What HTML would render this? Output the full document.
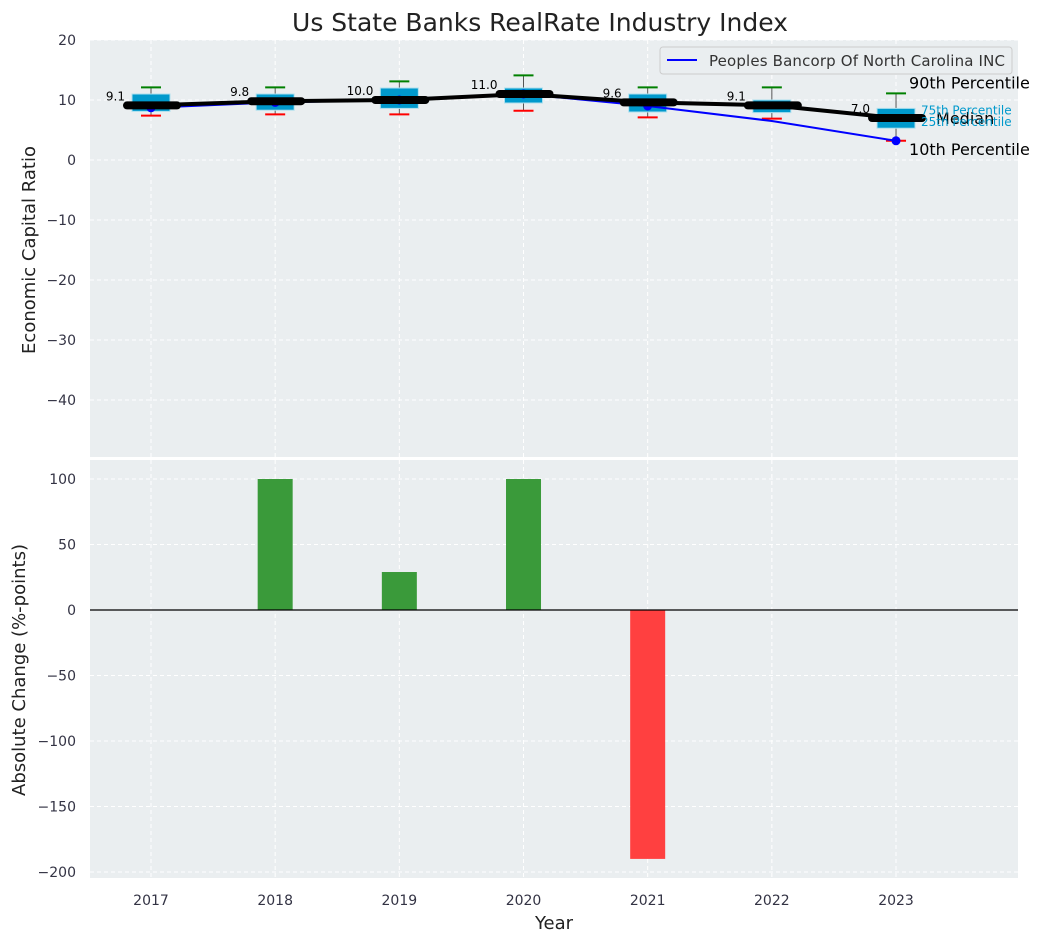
<!DOCTYPE html>
<html><head><meta charset="utf-8"><style>
body{margin:0;background:#fff;font-family:"Liberation Sans","DejaVu Sans",sans-serif}
svg text{font-family:"DejaVu Sans","Liberation Sans",sans-serif}
</style></head><body>
<svg id="c" width="1044" height="942" xmlns="http://www.w3.org/2000/svg">
<text x="540" y="31" font-size="25" text-anchor="middle" fill="#222">Us State Banks RealRate Industry Index</text>
<rect x="90" y="40" width="928" height="417" fill="#eaeef0"/>
<rect x="90" y="460" width="928" height="418" fill="#eaeef0"/>
<g id="gtop"></g><g id="gbot"></g>
<text transform="translate(35,250) rotate(-90)" font-size="18" text-anchor="middle" fill="#222">Economic Capital Ratio</text>
<text transform="translate(25,670) rotate(-90)" font-size="18" text-anchor="middle" fill="#222">Absolute Change (%-points)</text>
<text x="554" y="929" font-size="18" text-anchor="middle" fill="#222">Year</text>
<g>
<rect x="660" y="47" width="352" height="27" rx="3" fill="#eaeef0" stroke="#ccc"/>
<line x1="667" y1="60" x2="697" y2="60" stroke="blue" stroke-width="2"/>
<text x="709" y="66" font-size="15" fill="#333" textLength="296">Peoples Bancorp Of North Carolina INC</text>
</g>
</svg>
<script>
const years=[2017,2018,2019,2020,2021,2022,2023];
const medians=[9.1,9.8,10.0,11.0,9.6,9.1,7.0];
const q1=[8.1,8.3,8.6,9.5,8.0,7.9,5.3];
const q3=[11.0,11.0,12.0,12.0,11.0,10.0,8.6];
const p10=[7.4,7.6,7.6,8.2,7.1,6.9,3.2];
const p90=[12.1,12.1,13.1,14.1,12.1,12.1,11.1];
const company=[8.7,9.6,10.0,11.0,9.0,6.5,3.2];
const changes=[0,100,29,100,-190,0,0];
const topTicks=[20,10,0,-10,-20,-30,-40];
const botTicks=[100,50,0,-50,-100,-150,-200];
const NS="http://www.w3.org/2000/svg";
const X=y=>151+(y-2017)*124.17;
const YT=v=>160-v*6;
const YB=v=>610-v*1.31;
function mk(p,t,a){const e=document.createElementNS(NS,t);for(const k in a)e.setAttribute(k,a[k]);p.appendChild(e);return e;}
const gT=document.getElementById('gtop'),gB=document.getElementById('gbot');
years.forEach(y=>{[[gT,40,457],[gB,460,878]].forEach(([g,a,b])=>{const l=mk(g,'line',{x1:X(y),x2:X(y),y1:a,y2:b,stroke:'#fff','stroke-dasharray':'4,3'});

});
const t=mk(gB,'text',{x:X(y),y:905,'font-size':14,'text-anchor':'middle',fill:'#334'});t.textContent=y;

});
topTicks.forEach(v=>{const l=mk(gT,'line',{x1:90,x2:1018,y1:YT(v),y2:YT(v),stroke:'#fff','stroke-dasharray':'4,3'});


const t=mk(gT,'text',{x:76,y:YT(v)+5,'font-size':14,'text-anchor':'end',fill:'#334'});t.textContent=v<0?'\u2212'+(-v):v;

});
botTicks.forEach(v=>{const l=mk(gB,'line',{x1:90,x2:1018,y1:YB(v),y2:YB(v),stroke:'#fff','stroke-dasharray':'4,3'});


const t=mk(gB,'text',{x:76,y:YB(v)+5,'font-size':14,'text-anchor':'end',fill:'#334'});t.textContent=v<0?'\u2212'+(-v):v;

});
years.forEach((y,i)=>{const x=X(y),hw=19;
const w=mk(gT,'line',{x1:x,x2:x,y1:YT(p90[i]),y2:YT(p10[i]),stroke:'#555','stroke-width':1});


const b=mk(gT,'rect',{x:x-hw,y:YT(q3[i]),width:2*hw,height:YT(q1[i])-YT(q3[i]),fill:'#0099cc',stroke:'#aee0ee','stroke-width':1});


const a=mk(gT,'line',{x1:x-10,x2:x+10,y1:YT(p90[i]),y2:YT(p90[i]),stroke:'green','stroke-width':2});


const c=mk(gT,'line',{x1:x-10,x2:x+10,y1:YT(p10[i]),y2:YT(p10[i]),stroke:'red','stroke-width':2});

});
const cp=mk(gT,'polyline',{points:years.map((y,i)=>X(y)+','+YT(company[i])).join(' '),fill:'none',stroke:'blue','stroke-width':2});


years.forEach((y,i)=>{if(y===2022)return;const d=mk(gT,'circle',{cx:X(y),cy:YT(company[i]),r:4.5,fill:'blue'});

});
const ml=mk(gT,'polyline',{points:years.map((y,i)=>X(y)+','+YT(medians[i])).join(' '),fill:'none',stroke:'#000','stroke-width':4});


years.forEach((y,i)=>{const x=X(y);
const m=mk(gT,'line',{x1:x-24,x2:x+26,y1:YT(medians[i]),y2:YT(medians[i]),stroke:'#000','stroke-width':8,'stroke-linecap':'round'});


const t=mk(gT,'text',{x:x-26,y:YT(medians[i])-5,'font-size':12,'text-anchor':'end',fill:'#000'});t.textContent=medians[i].toFixed(1);

});
const lx=X(2023);
[['90th Percentile',lx+13,YT(p90[6])-5,16,'#000'],['Median',lx+40,YT(medians[6])+6,16,'#000'],['10th Percentile',lx+13,YT(p10[6])+14,16,'#000'],['75th Percentile',lx+25,YT(q3[6])+6,12,'#0099cc'],['25th Percentile',lx+25,YT(q1[6])-2,12,'#0099cc']].forEach(([s,x,y,f,c])=>{const t=mk(gT,'text',{x:x,y:y,'font-size':f,fill:c});t.textContent=s;

});
years.forEach((y,i)=>{const v=changes[i];if(!v)return;
const r=mk(gB,'rect',{x:X(y)-17.5,y:Math.min(YB(v),YB(0)),width:35,height:Math.abs(YB(v)-YB(0)),fill:v>0?'#3a9a3a':'#ff4040'});

});
const z=mk(gB,'line',{x1:90,x2:1018,y1:YB(0),y2:YB(0),stroke:'#000','stroke-width':1.2});


</script>
</body></html>
